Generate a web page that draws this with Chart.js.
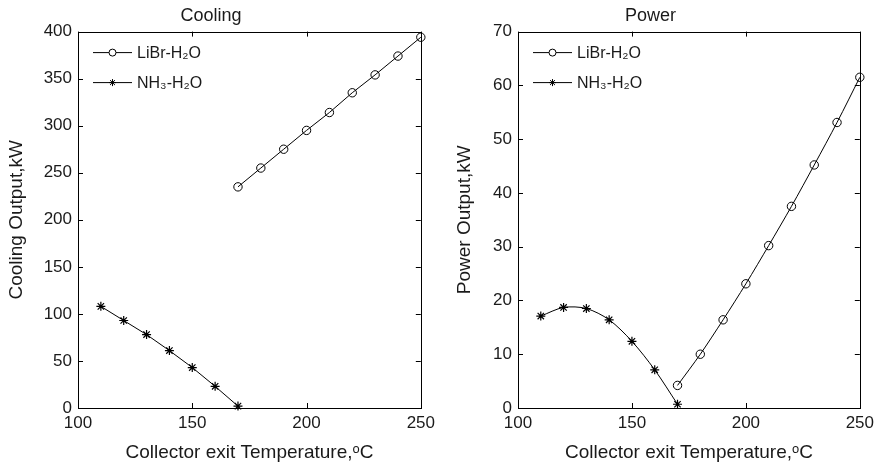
<!DOCTYPE html>
<html>
<head>
<meta charset="utf-8">
<script src="https://cdn.jsdelivr.net/npm/chart.js@4.4.1/dist/chart.umd.min.js"></script>
<style>
    body { margin: 0; background: #fff; }
    .panel { position: absolute; top: 0; }
</style>
</head>
<body>
<div class="panel" style="left:0"><canvas id="coolingChart" width="440" height="469"></canvas></div>
<div class="panel" style="left:440px"><canvas id="powerChart" width="439" height="469"></canvas></div>
<script>
// collector exit temperatures, degC
const libTemps = [170, 180, 190, 200, 210, 220, 230, 240, 250];
const nh3Temps = [110, 120, 130, 140, 150, 160, 170];

// cooling output, kW
const coolingLiBr = [235, 255, 275, 295, 314, 335, 354, 374, 394];
const coolingNH3 = [108, 93, 78, 61, 43, 23, 2];

// power output, kW
const powerLiBr = [4.2, 10.0, 16.4, 23.1, 30.2, 37.5, 45.2, 53.1, 61.5];
const powerNH3 = [17.1, 18.7, 18.5, 16.4, 12.4, 7.1, 0.7];

const seriesNames = ["LiBr-H\u2082O", "NH\u2083-H\u2082O"];
const xTitle = "Collector exit Temperature,\u1D52C";

const FONT = '"Liberation Sans", Arial, sans-serif';
const TEXT = "#1a1a1a";

function pts(xs, ys) {
    return xs.map((x, i) => ({ x: x, y: ys[i] }));
}

// MATLAB-like box with inward ticks
const matlabFrame = {
    id: "matlabFrame",
    afterDatasetsDraw: (chart) => {
        const ctx = chart.ctx;
        const a = chart.chartArea;
        const xs = chart.scales.x;
        const ys = chart.scales.y;
        ctx.save();
        ctx.strokeStyle = "#000";
        ctx.lineWidth = 1;
        ctx.strokeRect(Math.round(a.left) + 0.5, Math.round(a.top) + 0.5,
            Math.round(a.right - a.left), Math.round(a.bottom - a.top));
        ctx.beginPath();
        xs.ticks.forEach(t => {
            const px = Math.round(xs.getPixelForValue(t.value)) + 0.5;
            ctx.moveTo(px, a.bottom); ctx.lineTo(px, a.bottom - 5);
            ctx.moveTo(px, a.top); ctx.lineTo(px, a.top + 5);
        });
        ys.ticks.forEach(t => {
            const py = Math.round(ys.getPixelForValue(t.value)) + 0.5;
            ctx.moveTo(a.left, py); ctx.lineTo(a.left + 5, py);
            ctx.moveTo(a.right, py); ctx.lineTo(a.right - 5, py);
        });
        ctx.stroke();
        ctx.restore();
    }
};

// legend drawn inside the top-left of the axes
const insideLegend = {
    id: "insideLegend",
    afterDraw: (chart) => {
        const ctx = chart.ctx;
        const a = chart.chartArea;
        chart.data.datasets.forEach((ds, i) => {
            const y = a.top + 21 + i * 30;
            const x0 = a.left + 15;
            const x1 = a.left + 54;
            ctx.save();
            ctx.strokeStyle = "#000";
            ctx.lineWidth = 1;
            ctx.beginPath();
            ctx.moveTo(x0, y);
            ctx.lineTo(x1, y);
            ctx.stroke();
            ctx.fillStyle = "#fff";
            Chart.helpers.drawPoint(ctx, {
                pointStyle: ds.pointStyle,
                radius: 3.5,
                borderWidth: 1,
                rotation: 0
            }, (x0 + x1) / 2, y);
            ctx.fillStyle = TEXT;
            ctx.font = "16px " + FONT;
            ctx.textBaseline = "middle";
            ctx.fillText(ds.label, x1 + 5, y + 1);
            ctx.restore();
        });
    }
};

function makeChart(id, title, yTitle, yMax, yStep, libData, nh3Data, tension, yTitlePad) {
    const ctx = document.getElementById(id).getContext("2d");

    new Chart(ctx, {
        type: "line",

        data: {
            datasets: [{
                label: seriesNames[0],
                data: pts(libTemps, libData),
                borderColor: "#000",
                borderWidth: 1,
                tension: tension,
                pointStyle: "circle",
                pointRadius: 4.2,
                pointBorderWidth: 1,
                pointBorderColor: "#000",
                pointBackgroundColor: "rgba(255,255,255,0)",
                clip: false
            }, {
                label: seriesNames[1],
                data: pts(nh3Temps, nh3Data),
                borderColor: "#000",
                borderWidth: 1,
                tension: tension,
                pointStyle: "star",
                pointRadius: 4.5,
                pointBorderWidth: 1.2,
                pointBorderColor: "#000",
                pointBackgroundColor: "#000",
                clip: false
            }]
        },

        options: {
            responsive: false,
            animation: false,
            layout: {
                padding: { right: 18 }
            },

            plugins: {
                legend: { display: false },
                tooltip: { enabled: false },
                title: {
                    display: true,
                    text: title,
                    color: TEXT,
                    font: { family: FONT, size: 18, weight: "normal" },
                    padding: { top: 5, bottom: 5 }
                }
            },

            scales: {
                x: {
                    type: "linear",
                    min: 100,
                    max: 250,
                    afterFit: (scale) => { scale.height = 61; },
                    ticks: {
                        stepSize: 50,
                        color: TEXT,
                        padding: 5,
                        font: { family: FONT, size: 17 }
                    },
                    grid: { display: false, drawTicks: false },
                    border: { display: false },
                    title: {
                        display: true,
                        text: xTitle,
                        color: TEXT,
                        font: { family: FONT, size: 19 },
                        padding: { top: 0, bottom: 5 }
                    }
                },

                y: {
                    min: 0,
                    max: yMax,
                    afterFit: (scale) => { scale.width = 78; },
                    ticks: {
                        stepSize: yStep,
                        color: TEXT,
                        padding: 6,
                        font: { family: FONT, size: 17 }
                    },
                    grid: { display: false, drawTicks: false },
                    border: { display: false },
                    title: {
                        display: true,
                        text: yTitle,
                        color: TEXT,
                        font: { family: FONT, size: 19 },
                        padding: { top: yTitlePad, bottom: 0 }
                    }
                }
            }
        },

        plugins: [matlabFrame, insideLegend]
    });
}

makeChart("coolingChart", "Cooling", "Cooling Output,kW", 400, 50, coolingLiBr, coolingNH3, 0, 5);
makeChart("powerChart", "Power", "Power Output,kW", 70, 10, powerLiBr, powerNH3, 0.3, 13);
</script>
</body>
</html>
